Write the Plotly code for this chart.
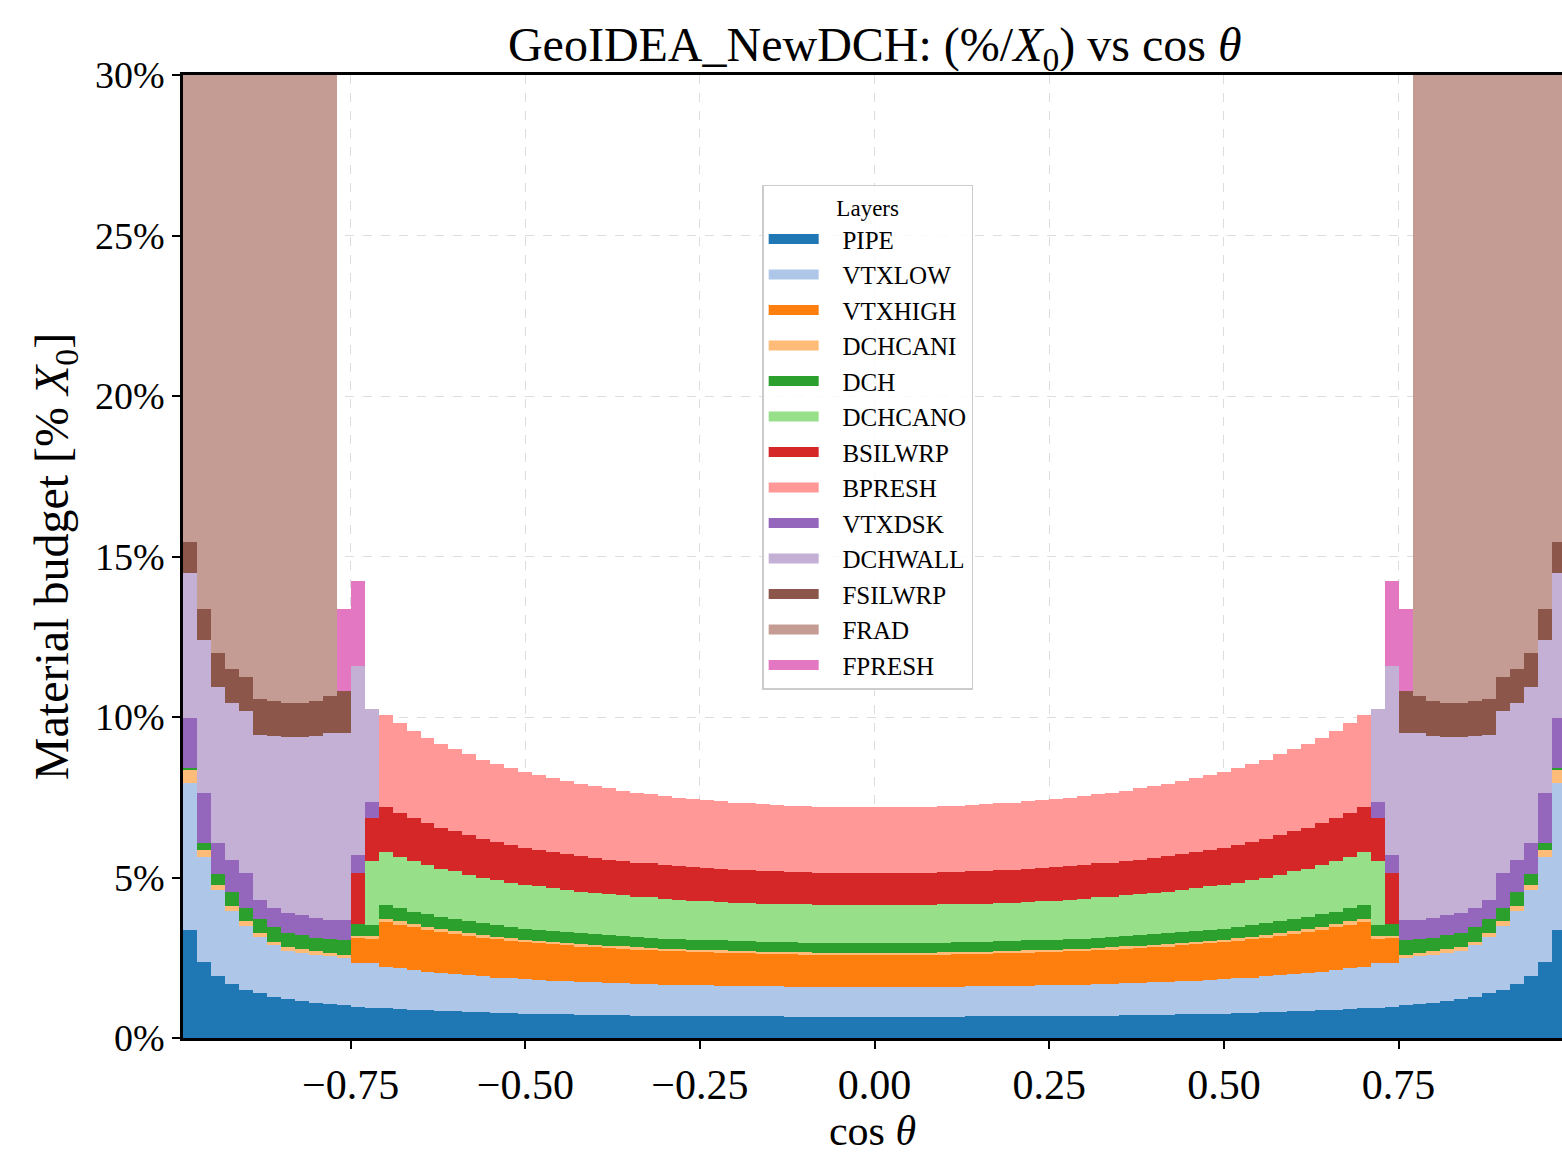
import plotly.graph_objects as go

# bin centres for |cos theta| (0.00 ... 0.98), bin width 0.02; chart is mirror-symmetric
ABS_COS = [round(0.02 * i, 2) for i in range(50)]

LAYERS = ["PIPE", "VTXLOW", "VTXHIGH", "DCHCANI", "DCH", "DCHCANO", "BSILWRP",
          "BPRESH", "VTXDSK", "DCHWALL", "FSILWRP", "FRAD", "FPRESH"]

# material budget per layer [% X0], index = |cos theta| bin
PIPE = [0.66, 0.66, 0.66, 0.66, 0.66, 0.66, 0.66, 0.67, 0.67, 0.67,
        0.67, 0.68, 0.68, 0.68, 0.69, 0.69, 0.70, 0.70, 0.71, 0.71,
        0.72, 0.73, 0.74, 0.74, 0.75, 0.76, 0.77, 0.78, 0.80, 0.81,
        0.83, 0.84, 0.86, 0.88, 0.90, 0.92,
        0.95, 0.98, 1.02, 1.05, 1.10, 1.15, 1.22, 1.29, 1.39, 1.51, 1.68, 1.93, 2.36, 3.36]
VTXLOW = [0.93, 0.93, 0.93, 0.93, 0.93, 0.93, 0.94, 0.94, 0.94, 0.95,
          0.95, 0.95, 0.96, 0.96, 0.97, 0.97, 0.98, 0.99, 1.00, 1.01,
          1.01, 1.02, 1.04, 1.05, 1.06, 1.07, 1.09, 1.10, 1.12, 1.14,
          1.16, 1.19, 1.21, 1.24, 1.27, 1.30,
          1.38, 1.37, 1.48, 1.50, 1.50, 1.51, 1.50, 1.61, 1.76, 1.99, 2.27, 2.67, 3.28, 4.58]
VTXHIGH = [1.00, 1.00, 1.00, 1.00, 1.00, 1.01, 1.01, 1.01, 1.01, 1.02,
           1.02, 1.03, 1.03, 1.04, 1.04, 1.05, 1.06, 1.06, 1.07, 1.08,
           1.09, 1.10, 1.11, 1.13, 1.14, 1.15, 1.17, 1.19, 1.21, 1.23,
           1.25, 1.27, 1.30, 1.33, 1.36, 1.40,
           0.78, 0.77, 0, 0, 0, 0, 0, 0, 0, 0, 0, 0, 0, 0]
DCHCANI = [0.07, 0.07, 0.07, 0.07, 0.07, 0.07, 0.07, 0.07, 0.07, 0.07,
           0.07, 0.07, 0.07, 0.07, 0.07, 0.07, 0.07, 0.07, 0.08, 0.08,
           0.08, 0.08, 0.08, 0.08, 0.08, 0.08, 0.08, 0.08, 0.08, 0.09,
           0.09, 0.09, 0.09, 0.09, 0.10, 0.10,
           0.06, 0.07, 0.10, 0.10, 0.10, 0.10, 0.10, 0.10, 0.12, 0.13, 0.15, 0.18, 0.21, 0.41]
DCH = [0.30, 0.30, 0.30, 0.30, 0.30, 0.30, 0.30, 0.30, 0.30, 0.31,
       0.31, 0.31, 0.31, 0.31, 0.31, 0.31, 0.32, 0.32, 0.32, 0.32,
       0.33, 0.33, 0.33, 0.34, 0.34, 0.35, 0.35, 0.36, 0.36, 0.37,
       0.38, 0.38, 0.39, 0.40, 0.41, 0.42,
       0.35, 0.35, 0.45, 0.42, 0.43, 0.44, 0.45, 0.45, 0.43, 0.42, 0.45, 0.32, 0.21, 0.05]
DCHCANO = [1.18, 1.18, 1.18, 1.18, 1.18, 1.19, 1.19, 1.19, 1.20, 1.20,
           1.20, 1.21, 1.22, 1.22, 1.23, 1.24, 1.25, 1.25, 1.26, 1.28,
           1.29, 1.30, 1.31, 1.33, 1.35, 1.36, 1.38, 1.40, 1.42, 1.45,
           1.48, 1.50, 1.54, 1.57, 1.61, 1.65,
           1.98, 0, 0, 0, 0, 0, 0, 0, 0, 0, 0, 0, 0, 0]
BSILWRP = [1.00, 1.00, 1.00, 1.00, 1.00, 1.01, 1.01, 1.01, 1.01, 1.02,
           1.02, 1.03, 1.03, 1.04, 1.04, 1.05, 1.06, 1.06, 1.07, 1.08,
           1.09, 1.10, 1.11, 1.13, 1.14, 1.15, 1.17, 1.19, 1.21, 1.23,
           1.25, 1.27, 1.30, 1.33, 1.36, 1.40,
           1.35, 1.60, 0, 0, 0, 0, 0, 0, 0, 0, 0, 0, 0, 0]
BPRESH = [2.05, 2.05, 2.05, 2.05, 2.06, 2.06, 2.06, 2.07, 2.08, 2.08,
          2.09, 2.10, 2.11, 2.12, 2.14, 2.15, 2.16, 2.18, 2.20, 2.22,
          2.24, 2.26, 2.28, 2.31, 2.34, 2.37, 2.40, 2.44, 2.47, 2.52,
          2.56, 2.61, 2.67, 2.73, 2.80, 2.87,
          0, 0, 0, 0, 0, 0, 0, 0, 0, 0, 0, 0, 0, 0]
VTXDSK = [0] * 36 + [0.50, 0.56, 0.62, 0.61, 0.62, 0.62, 0.63, 0.60, 0.60, 1.09, 1.00, 0.96, 1.56, 1.57]
DCHWALL = [0] * 36 + [2.90, 5.90, 5.83, 5.82, 5.67, 5.56, 5.48, 5.37, 5.15, 5.06, 4.90, 4.89, 4.78, 4.53]
FSILWRP = [0] * 36 + [0, 0, 1.30, 1.15, 1.08, 1.07, 1.07, 1.08, 1.10, 1.05, 1.05, 1.05, 0.95, 0.95]
FRAD = [0] * 36 + [0, 0, 0, 22, 22, 22, 22, 22, 22, 22, 22, 22, 22, 22]
FPRESH = [0] * 36 + [0, 2.65, 2.55, 0, 0, 0, 0, 0, 0, 0, 0, 0, 0, 0]

VALUES = [PIPE, VTXLOW, VTXHIGH, DCHCANI, DCH, DCHCANO, BSILWRP,
          BPRESH, VTXDSK, DCHWALL, FSILWRP, FRAD, FPRESH]
COLORS = ["#1f77b4", "#aec7e8", "#ff7f0e", "#ffbb78", "#2ca02c", "#98df8a", "#d62728",
          "#ff9896", "#9467bd", "#c5b0d5", "#8c564b", "#c49c94", "#e377c2"]

X_TICKS = [-0.75, -0.5, -0.25, 0.0, 0.25, 0.5, 0.75]
X_TICKTEXT = ["\u22120.75", "\u22120.50", "\u22120.25", "0.00", "0.25", "0.50", "0.75"]
Y_TICKS = [0, 5, 10, 15, 20, 25, 30]
Y_TICKTEXT = ["0%", "5%", "10%", "15%", "20%", "25%", "30%"]

# full axis: -0.98 ... 0.98 (mirror)
x_full = [-c for c in ABS_COS[::-1]] + ABS_COS[1:]

FONT = "Liberation Serif"
fig = go.Figure()
for name, vals, col in zip(LAYERS, VALUES, COLORS):
    full = vals[::-1] + vals[1:]
    fig.add_trace(go.Bar(
        x=x_full, y=full, width=0.02, name=name, legendgroup=name,
        marker=dict(color=col, line=dict(width=0)),
        showlegend=False,
    ))
    fig.add_trace(go.Scatter(
        x=[None], y=[None], mode="lines", name="\u00a0\u00a0\u00a0" + name, legendgroup=name,
        line=dict(color=col, width=15), showlegend=True,
    ))

fig.update_layout(
    width=1562, height=1154,
    margin=dict(l=183, r=0, t=75, b=116),
    barmode="stack", bargap=0,
    plot_bgcolor="white", paper_bgcolor="white",
    font=dict(family=FONT, color="black", size=38),
    title=dict(text="GeoIDEA_NewDCH: (%/<i>X</i><sub>0</sub>) vs cos <i>θ</i>",
               x=0.56, xanchor="center", y=0.962, yanchor="middle",
               font=dict(size=48, family=FONT)),
    legend=dict(
        x=0.42, y=0.886, xanchor="left", yanchor="top",
        bgcolor="rgba(255,255,255,0.85)", bordercolor="#cccccc", borderwidth=1.5,
        font=dict(size=25, family=FONT),
        title=dict(text="Layers", side="top center", font=dict(size=23, family=FONT)),
        itemwidth=50, tracegroupgap=0,
    ),
    xaxis=dict(
        range=[-0.99, 0.984], tickvals=X_TICKS, ticktext=X_TICKTEXT,
        tickfont=dict(size=42),
        showgrid=True, gridcolor="#dddddd", griddash="dash", gridwidth=1,
        showline=True, linecolor="black", linewidth=2.5, mirror=True,
        ticks="outside", ticklen=8, tickwidth=1.5, tickcolor="black",
        zeroline=False,
        title=dict(text="cos <i>θ</i>", font=dict(size=42), standoff=10),
    ),
    yaxis=dict(
        range=[0, 30], tickvals=Y_TICKS, ticktext=Y_TICKTEXT,
        tickfont=dict(size=38),
        showgrid=True, gridcolor="#dddddd", griddash="dash", gridwidth=1,
        showline=True, linecolor="black", linewidth=2.5, mirror=False,
        ticks="outside", ticklen=8, tickwidth=1.5, tickcolor="black",
        zeroline=False,
        title=dict(text="Material budget [% <i>X</i><sub>0</sub>]", font=dict(size=48), standoff=12),
    ),
)

fig.write_html("out.html")
